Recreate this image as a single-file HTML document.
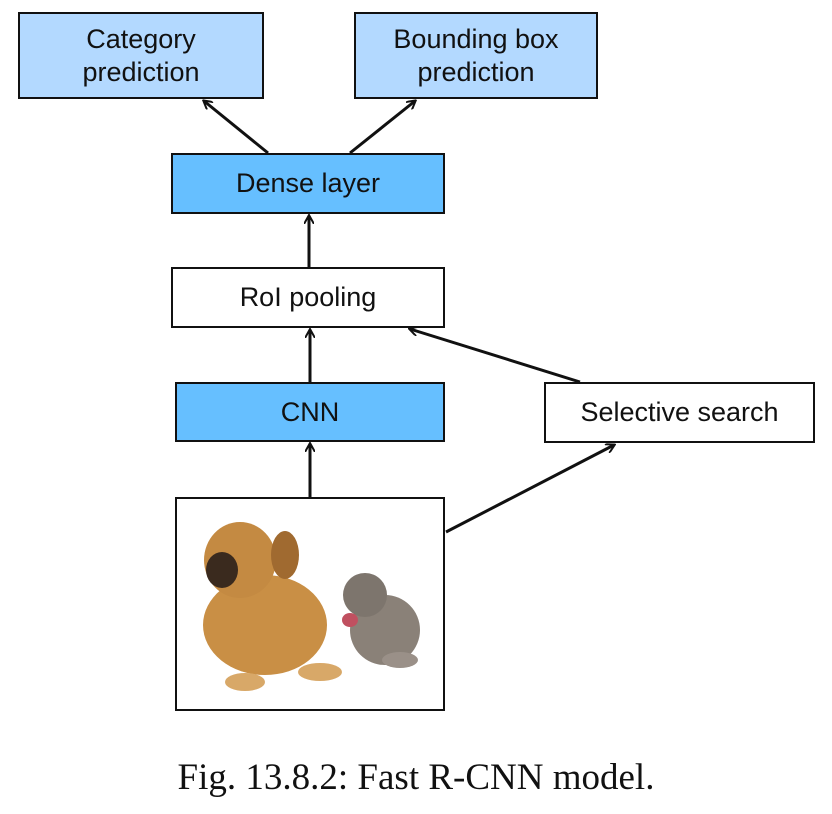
<!DOCTYPE html>
<html><head><style>
body{margin:0;background:#fff;width:832px;height:814px;overflow:hidden;position:relative;font-family:"Liberation Sans",sans-serif}
.b{position:absolute;box-sizing:border-box;border:2.5px solid #111;display:flex;align-items:center;justify-content:center;text-align:center;font-size:27px;line-height:33px;color:#111}
.l{background:#b3d9ff}.d{background:#66bfff}.w{background:#fff}
.cap{position:absolute;left:0;width:832px;top:756px;text-align:center;font-family:"Liberation Serif","DejaVu Serif",serif;font-size:37px;color:#111}
</style></head><body>
<div class="b l" style="left:18px;top:12px;width:246px;height:87px">Category<br>prediction</div>
<div class="b l" style="left:354px;top:12px;width:244px;height:87px">Bounding box<br>prediction</div>
<div class="b d" style="left:171px;top:153px;width:274px;height:61px">Dense layer</div>
<div class="b w" style="left:171px;top:267px;width:274px;height:61px">RoI pooling</div>
<div class="b d" style="left:175px;top:382px;width:270px;height:60px">CNN</div>
<div class="b w" style="left:544px;top:382px;width:271px;height:61px">Selective search</div>
<div class="b w" style="left:175px;top:497px;width:270px;height:214px"></div>
<svg width="832" height="814" style="position:absolute;left:0;top:0">
<defs><marker id="a" markerWidth="10" markerHeight="10" refX="8" refY="5" orient="auto" markerUnits="userSpaceOnUse"><path d="M0,0 L9,5 L0,10" fill="none" stroke="#111" stroke-width="2"/></marker></defs>
<g stroke="#111" stroke-width="3" fill="none" marker-end="url(#a)">
<line x1="268" y1="153" x2="204" y2="101"/>
<line x1="350" y1="153" x2="415" y2="101"/>
<line x1="309" y1="267" x2="309" y2="216"/>
<line x1="310" y1="382" x2="310" y2="330"/>
<line x1="580" y1="382" x2="410" y2="329"/>
<line x1="310" y1="497" x2="310" y2="444"/>
<line x1="446" y1="532" x2="614" y2="445"/>
</g>
<ellipse cx="265" cy="625" rx="62" ry="50" fill="#c98f45"/>
<ellipse cx="240" cy="560" rx="36" ry="38" fill="#c48a42"/>
<ellipse cx="222" cy="570" rx="16" ry="18" fill="#3a2a1e"/>
<ellipse cx="285" cy="555" rx="14" ry="24" fill="#a06a30"/>
<ellipse cx="245" cy="682" rx="20" ry="9" fill="#d8a868"/>
<ellipse cx="320" cy="672" rx="22" ry="9" fill="#d8a868"/>
<ellipse cx="385" cy="630" rx="35" ry="35" fill="#8a8178"/>
<ellipse cx="365" cy="595" rx="22" ry="22" fill="#7d756d"/>
<ellipse cx="350" cy="620" rx="8" ry="7" fill="#c05060"/>
<ellipse cx="400" cy="660" rx="18" ry="8" fill="#9a9088"/>
</svg>
<div class="cap">Fig. 13.8.2: Fast R-CNN model.</div>
</body></html>
